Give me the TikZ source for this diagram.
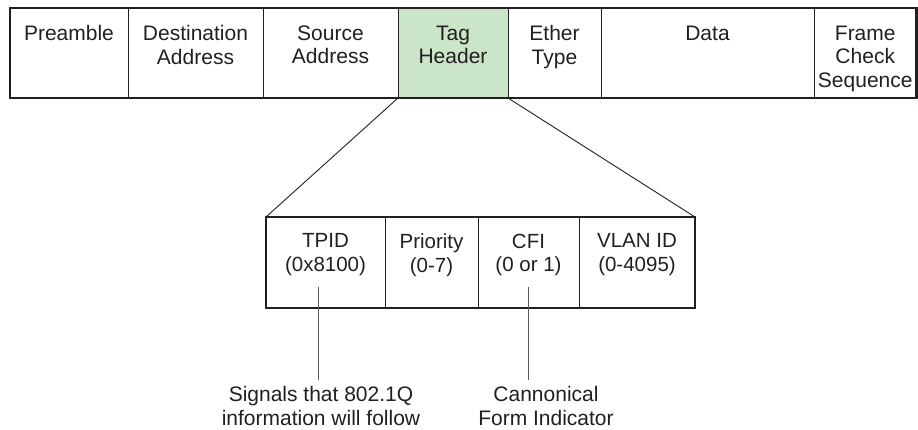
\documentclass[tikz,border=0pt]{standalone}
\usepackage{fontspec}
\setmainfont{Liberation Sans}
\definecolor{ink}{HTML}{231F20}
\definecolor{taggreen}{RGB}{203,229,201}
\definecolor{tickgray}{HTML}{5A5A5A}
\begin{document}
\begin{tikzpicture}[x=1pt,y=-1pt,
  cell/.style={draw=ink, line width=0.9pt, minimum height=90pt, inner sep=0pt, outer sep=0pt, anchor=north west},
  subcell/.style={draw=ink, line width=0.9pt, minimum height=91pt, inner sep=0pt, outer sep=0pt, anchor=north west},
  frame/.style={draw=ink, line width=2.3pt},
  toptxt/.style={anchor=north, inner sep=0pt, align=center, text=ink, font=\fontsize{21}{23.5}\selectfont},
  subtxt/.style={anchor=north, inner sep=0pt, align=center, text=ink, font=\fontsize{20.5}{23.5}\selectfont},
  fan/.style={draw=ink, line width=0.9pt},
  tickline/.style={draw=tickgray, line width=0.9pt}
]
\useasboundingbox (0,0) rectangle (918,430);

% top frame cells
\node[cell, minimum width=118pt] (pre) at (10,8) {};
\node[cell, minimum width=135pt] (dst) at (128,8) {};
\node[cell, minimum width=135pt] (src) at (263,8) {};
\node[cell, minimum width=110pt, fill=taggreen] (tag) at (398,8) {};
\node[cell, minimum width=93pt] (eth) at (508,8) {};
\node[cell, minimum width=213pt] (dat) at (601,8) {};
\node[cell, minimum width=102.5pt] (fcs) at (814,8) {};
\path[frame] (pre.north west) rectangle (fcs.south east);

\node[toptxt] (preT) at ([yshift=-17.5pt]pre.north) {Preamble};
\node[toptxt] (dstT) at ([yshift=-17.5pt]dst.north) {Destination\\Address};
\node[toptxt] (srcT) at ([yshift=-17.5pt]src.north) {Source\\Address};
\node[toptxt] (tagT) at ([yshift=-17.5pt]tag.north) {Tag\\Header};
\node[toptxt] (ethT) at ([yshift=-17.5pt]eth.north) {Ether\\Type};
\node[toptxt] (datT) at ([yshift=-17.5pt]dat.north) {Data};
\node[toptxt] (fcsT) at ([yshift=-17.5pt]fcs.north) {Frame\\Check\\Sequence};

% tag header sub-fields
\node[subcell, minimum width=119pt] (tpid) at (266,217) {};
\node[subcell, minimum width=93pt] (prio) at (385,217) {};
\node[subcell, minimum width=101pt] (cfi) at (478,217) {};
\node[subcell, minimum width=116pt] (vlan) at (579,217) {};
\path[frame] (tpid.north west) rectangle (vlan.south east);

\node[subtxt] (tpidT) at ([yshift=-16.5pt]tpid.north) {TPID\\(0x8100)};
\node[subtxt] (prioT) at ([yshift=-16.5pt]prio.north) {Priority\\(0-7)};
\node[subtxt] (cfiT) at ([yshift=-16.5pt]cfi.north) {CFI\\(0 or 1)};
\node[subtxt] (vlanT) at ([yshift=-16.5pt]vlan.north) {VLAN ID\\(0-4095)};

% fan lines
\path[fan] (tag.south west) -- (tpid.north west);
\path[fan] (tag.south east) -- (vlan.north east);

% callouts
\node[toptxt] (sig) at (321,386.5) {Signals that 802.1Q\\information will follow};
\node[toptxt] (cfn) at (546,386.5) {Cannonical\\Form Indicator};
\coordinate (tpidA) at (318,287);
\coordinate (tpidB) at (318,380);
\coordinate (cfiA) at (528,287);
\coordinate (cfiB) at (528,380);
\path[tickline] (tpidA) -- (tpidB);
\path[tickline] (cfiA) -- (cfiB);
\end{tikzpicture}
\end{document}
